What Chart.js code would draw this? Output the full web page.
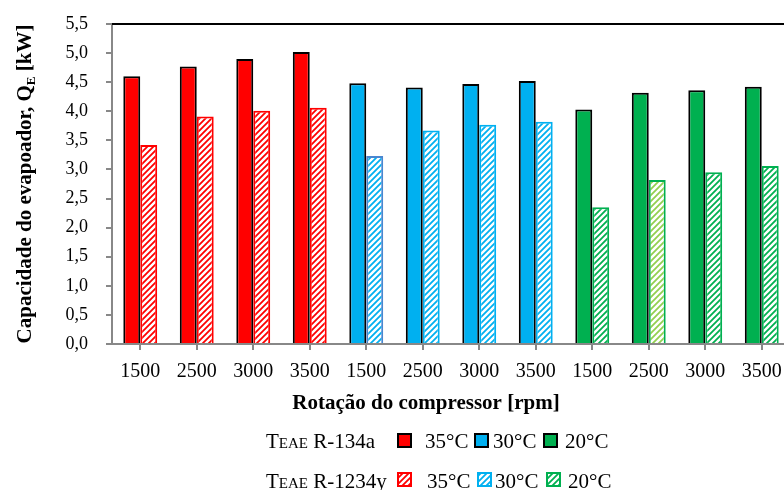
<!DOCTYPE html>
<html>
<head>
<meta charset="utf-8">
<script src="https://cdn.jsdelivr.net/npm/chart.js@4.4.0/dist/chart.umd.min.js"></script>
<style>
  html, body { margin: 0; padding: 0; background: #fff; overflow: hidden; }
  #wrap { position: relative; width: 800px; height: 490px; }
</style>
</head>
<body>
<div id="wrap"><canvas id="QeChart"></canvas></div>
<script>
// rotação do compressor (rpm), three TEAE groups: 35, 30, 20 °C
var rotacao = ['1500', '2500', '3000', '3500', '1500', '2500', '3000', '3500', '1500', '2500', '3000', '3500'];
var grupoTeae = ['35°C', '35°C', '35°C', '35°C', '30°C', '30°C', '30°C', '30°C', '20°C', '20°C', '20°C', '20°C'];
var qeR134a = [4.60, 4.77, 4.90, 5.02, 4.48, 4.41, 4.47, 4.52, 4.03, 4.32, 4.36, 4.42];
var qeR1234yf = [3.42, 3.91, 4.01, 4.06, 3.23, 3.67, 3.77, 3.82, 2.35, 2.82, 2.95, 3.06];
var yMin = 0, yMax = 5.5, yStep = 0.5;

var corGrupo = { '35°C': '#FF0000', '30°C': '#00B0F0', '20°C': '#00B050' };
var hatchCor = ['#FF0000', '#FF0000', '#FF0000', '#FF0000', '#00B0F0', '#00B0F0', '#00B0F0', '#00B0F0', '#00B050', '#92D050', '#00B050', '#00B050'];
var hatchBorda = ['#FF0000', '#FF0000', '#FF0000', '#FF0000', '#4A86D0', '#00B0F0', '#00B0F0', '#00B0F0', '#00B050', '#00B050', '#00B050', '#00B050'];

var FONT = "'Liberation Serif', 'Times New Roman', serif";
var ctx = document.getElementById('QeChart');
var mainCtx = ctx.getContext('2d');

function hatch(color) {
  var c = document.createElement('canvas');
  c.width = 6; c.height = 6;
  var g = c.getContext('2d');
  g.fillStyle = '#fff';
  g.fillRect(0, 0, 6, 6);
  g.strokeStyle = color;
  g.lineWidth = 1.8;
  g.beginPath();
  g.moveTo(-1, 7); g.lineTo(7, -1);
  g.moveTo(-4, 4); g.lineTo(4, -4);
  g.moveTo(2, 10); g.lineTo(10, 2);
  g.stroke();
  return mainCtx.createPattern(c, 'repeat');
}

var solidColors = grupoTeae.map(function (g) { return corGrupo[g]; });
var hatchFills = hatchCor.map(hatch);

var extras = {
  id: 'extras',
  afterDraw: function (chart) {
    var c = chart.ctx, a = chart.chartArea;
    c.save();
    // top frame line
    c.strokeStyle = '#000';
    c.lineWidth = 2;
    c.beginPath();
    c.moveTo(a.left, a.top);
    c.lineTo(a.right, a.top);
    c.stroke();

    // y title with subscript
    c.fillStyle = '#000';
    c.textBaseline = 'alphabetic';
    var t1 = 'Capacidade do evapoador, Q', t2 = 'E', t3 = ' [kW]';
    c.font = 'bold 21px ' + FONT;
    var w1 = c.measureText(t1).width, w3 = c.measureText(t3).width;
    c.font = 'bold 13px ' + FONT;
    var w2 = c.measureText(t2).width;
    var tot = w1 + w2 + w3;
    c.translate(31, (a.top + a.bottom) / 2);
    c.rotate(-Math.PI / 2);
    c.textAlign = 'left';
    c.font = 'bold 21px ' + FONT;
    c.fillText(t1, -tot / 2, 0);
    c.font = 'bold 13px ' + FONT;
    c.fillText(t2, -tot / 2 + w1, 4);
    c.font = 'bold 21px ' + FONT;
    c.fillText(t3, -tot / 2 + w1 + w2, 0);
    c.setTransform(1, 0, 0, 1, 0, 0);

    // x title
    c.textAlign = 'center';
    c.font = 'bold 21px ' + FONT;
    c.fillText('Rotação do compressor [rpm]', 426, 409);

    // legend
    var rows = [
      { label: ' R-134a', y: 448, box: 433, items: [[397, 425], [474, 493], [543, 565]], hatched: false },
      { label: ' R-1234y', y: 488, box: 472, items: [[397, 427], [477, 495], [546, 568]], hatched: true }
    ];
    var grupos = ['35°C', '30°C', '20°C'];
    c.textAlign = 'left';
    rows.forEach(function (r) {
      var x = 266;
      c.fillStyle = '#000';
      c.font = '21px ' + FONT;
      c.fillText('T', x, r.y);
      x += c.measureText('T').width;
      c.font = '15px ' + FONT;
      c.fillText('EAE', x, r.y);
      x += c.measureText('EAE').width;
      c.font = '21px ' + FONT;
      c.fillText(r.label, x, r.y);
      r.items.forEach(function (it, i) {
        var col = corGrupo[grupos[i]];
        c.fillStyle = r.hatched ? hatch(col) : col;
        c.fillRect(it[0], r.box, 15, 15);
        c.strokeStyle = r.hatched ? col : '#000';
        c.lineWidth = 2;
        c.strokeRect(it[0] + 1, r.box + 1, 13, 13);
        c.fillStyle = '#000';
        c.font = '21px ' + FONT;
        c.fillText(grupos[i], it[1], r.y);
      });
    });
    c.restore();
  }
};

new Chart(ctx, {
  type: 'bar',
  data: {
    labels: rotacao,
    datasets: [{
      label: 'R-134a',
      data: qeR134a,
      backgroundColor: solidColors,
      borderColor: '#000',
      borderWidth: 2,
      borderSkipped: 'bottom'
    }, {
      label: 'R-1234yf',
      data: qeR1234yf,
      backgroundColor: hatchFills,
      borderColor: hatchBorda,
      borderWidth: 2,
      borderSkipped: 'bottom'
    }]
  },
  options: {
    responsive: true,
    maintainAspectRatio: false,
    animation: false,
    categoryPercentage: 0.6,
    barPercentage: 1.0,
    layout: { padding: { left: 0, top: 24, right: 10, bottom: 0 } },
    plugins: { legend: { display: false }, tooltip: { enabled: false } },
    scales: {
      x: {
        offset: true,
        grid: { offset: false, drawOnChartArea: false, color: '#888', lineWidth: 2, tickLength: 6 },
        border: { color: '#888', width: 2 },
        ticks: { color: '#000', font: { family: FONT, size: 20 }, padding: 10, maxRotation: 0, autoSkip: false },
        afterFit: function (s) { s.height = 146; s.paddingLeft = 0; s.paddingRight = 0; }
      },
      y: {
        min: yMin,
        max: yMax,
        grid: { drawOnChartArea: false, color: '#888', lineWidth: 2, tickLength: 6 },
        border: { color: '#888', width: 2 },
        ticks: {
          stepSize: yStep,
          color: '#000',
          font: { family: FONT, size: 18 },
          padding: 18,
          callback: function (v) { return v.toFixed(1).replace('.', ','); }
        },
        afterFit: function (s) { s.width = 112; s.paddingTop = 0; s.paddingBottom = 0; }
      }
    }
  },
  plugins: [extras]
});
</script>
</body>
</html>
